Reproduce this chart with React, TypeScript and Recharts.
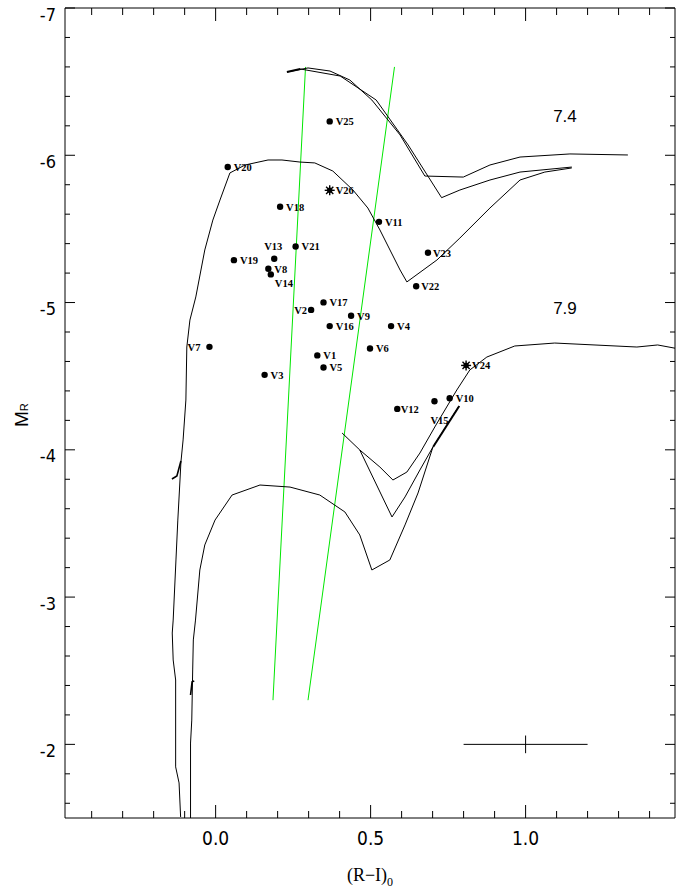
import React from 'react';
import { ScatterChart, Scatter, XAxis, YAxis, ReferenceArea, ErrorBar } from 'recharts';

// variable stars: (R-I)0 colour and M_R
const VAR_NAMES = ['V1', 'V2', 'V3', 'V4', 'V5', 'V6', 'V7', 'V8', 'V9', 'V10', 'V11', 'V12', 'V13',
  'V14', 'V15', 'V16', 'V17', 'V18', 'V19', 'V20', 'V21', 'V22', 'V23', 'V24', 'V25', 'V26'];
const VAR_RI = [0.328, 0.308, 0.158, 0.566, 0.348, 0.498, -0.02, 0.17, 0.437, 0.755, 0.527, 0.586, 0.189,
  0.178, 0.706, 0.368, 0.348, 0.208, 0.059, 0.039, 0.258, 0.647, 0.685, 0.808, 0.368, 0.368];
const VAR_MR = [-4.641, -4.95, -4.509, -4.84, -4.559, -4.688, -4.699, -5.229, -4.91, -4.35, -5.548, -4.278, -5.297,
  -5.191, -4.33, -4.84, -5.001, -5.65, -5.288, -5.92, -5.381, -5.111, -5.338, -4.573, -6.23, -5.762];
const STAR_MARKED = ['V24', 'V26'];

// isochrones, log age 7.4
const ISO74_MAIN: [number, number][] = [
  [-0.113, -1.507], [-0.118, -1.738], [-0.129, -1.847], [-0.129, -2.437], [-0.137, -2.573], [-0.14, -2.756],
  [-0.137, -2.844], [-0.128, -3.252], [-0.122, -3.523], [-0.115, -3.795], [-0.112, -3.917], [-0.105, -4.067],
  [-0.096, -4.338], [-0.093, -4.698], [-0.083, -4.881], [-0.064, -5.038], [-0.035, -5.357], [-0.009, -5.56],
  [0.014, -5.696], [0.046, -5.88], [0.095, -5.934], [0.169, -5.968], [0.214, -5.968], [0.272, -5.954],
  [0.32, -5.948], [0.378, -5.893], [0.443, -5.764], [0.491, -5.642], [0.53, -5.493], [0.595, -5.221],
  [0.617, -5.14], [0.714, -5.289], [0.788, -5.438], [0.885, -5.642], [0.982, -5.832], [1.062, -5.886],
  [1.149, -5.914],
];
const ISO74_UP1: [number, number][] = [
  [0.23, -6.565], [0.298, -6.593], [0.369, -6.572], [0.433, -6.511], [0.504, -6.375], [0.595, -6.138],
  [0.675, -5.859], [0.799, -5.852], [0.885, -5.934], [0.982, -5.988], [1.143, -6.009], [1.33, -6.002],
];
const ISO74_UP2: [number, number][] = [
  [0.273, -6.586], [0.402, -6.538], [0.518, -6.375], [0.621, -6.07], [0.729, -5.712], [0.788, -5.764],
  [0.885, -5.832], [0.982, -5.886], [1.149, -5.92],
];
const ISO74_TIP: [number, number][] = [[0.23, -6.565], [0.273, -6.586]];
const ISO74_HOOK: [number, number][] = [[-0.141, -3.802], [-0.125, -3.822], [-0.112, -3.924]];

// isochrones, log age 7.9
const ISO79_MAIN: [number, number][] = [
  [-0.081, -1.5], [-0.081, -2.009], [-0.077, -2.165], [-0.074, -2.505], [-0.072, -2.709], [-0.065, -2.844],
  [-0.051, -3.184], [-0.035, -3.354], [-0.002, -3.523], [0.053, -3.693], [0.143, -3.761], [0.24, -3.747],
  [0.336, -3.693], [0.417, -3.578], [0.465, -3.422], [0.504, -3.184], [0.562, -3.252], [0.611, -3.49],
  [0.653, -3.707], [0.701, -4.019], [0.785, -4.297],
];
const ISO79_UP1: [number, number][] = [
  [0.408, -4.114], [0.465, -3.999], [0.53, -3.883], [0.572, -3.795], [0.617, -3.849], [0.659, -3.978],
  [0.707, -4.155], [0.778, -4.406], [0.82, -4.542], [0.875, -4.63], [0.965, -4.705], [1.094, -4.725],
  [1.359, -4.698], [1.426, -4.712], [1.482, -4.69],
];
const ISO79_UP2: [number, number][] = [
  [0.465, -3.999], [0.569, -3.544], [0.611, -3.68], [0.659, -3.863], [0.701, -4.019],
];
const ISO79_TIP: [number, number][] = [[0.702, -4.021], [0.786, -4.297]];
const ISO79_HOOK: [number, number][] = [[-0.081, -2.335], [-0.076, -2.425], [-0.069, -2.43]];

// instability strip edges
const STRIP_BLUE: [number, number][] = [[0.29, -6.6], [0.185, -2.3]];
const STRIP_RED: [number, number][] = [[0.577, -6.6], [0.298, -2.3]];

// typical error
const ERR_POINT = [{ x: 1.0, y: -2.0, ex: 0.2, ey: 0.06 }];

const AGE_TEXT = ['7.4', '7.9'];
const AGE_X = [1.127, 1.127];
const AGE_Y = [-6.266, -4.963];

const X_TICKS = [-0.4, -0.3, -0.2, -0.1, 0, 0.1, 0.2, 0.3, 0.4, 0.5, 0.6, 0.7, 0.8, 0.9, 1.0, 1.1, 1.2, 1.3, 1.4];
const X_LABEL_VALUES = [0, 0.5, 1.0];
const X_LABEL_TEXT = ['0.0', '0.5', '1.0'];
const Y_TICKS = [-7, -6.8, -6.6, -6.4, -6.2, -6, -5.8, -5.6, -5.4, -5.2, -5, -4.8, -4.6, -4.4, -4.2, -4,
  -3.8, -3.6, -3.4, -3.2, -3, -2.8, -2.6, -2.4, -2.2, -2, -1.8, -1.6];
const Y_LABEL_VALUES = [-7, -6, -5, -4, -3, -2];
const Y_LABEL_TEXT = ['-7', '-6', '-5', '-4', '-3', '-2'];

const PLOT = { left: 65, right: 675, top: 8, bottom: 818 };
const NARROW = "'Liberation Sans Narrow', 'Arial Narrow', 'DejaVu Sans Condensed', sans-serif";

// label placement for the star names (dx, dy, anchor)
const LABEL_POS: Record<string, [number, number, string]> = {
  V2: [-4, 4, 'end'],
  V7: [-9, 4, 'end'],
  V12: [3.5, 4, 'start'],
  V13: [-1, -8.5, 'middle'],
  V14: [4, 12.5, 'start'],
  V15: [5, 22.5, 'middle'],
  V22: [5, 4, 'start'],
  V23: [5, 4, 'start'],
};

const toPts = (arr: [number, number][]) => arr.map(([x, y]) => ({ x, y }));
const varData = VAR_NAMES.map((name, i) => ({ x: VAR_RI[i], y: VAR_MR[i], name }));
const ageData = AGE_TEXT.map((t, i) => ({ x: AGE_X[i], y: AGE_Y[i], t }));

const Empty = () => <g />;

const VarShape = (props: any) => {
  const { cx, cy, payload } = props;
  const [dx, dy, anchor] = LABEL_POS[payload.name] || [6, 4, 'start'];
  const star = STAR_MARKED.includes(payload.name);
  return (
    <g>
      {star ? (
        <g stroke="#000" strokeWidth={1.4}>
          <line x1={cx - 5} x2={cx + 5} y1={cy} y2={cy} />
          <line x1={cx} x2={cx} y1={cy - 5} y2={cy + 5} />
          <line x1={cx - 3.6} x2={cx + 3.6} y1={cy - 3.6} y2={cy + 3.6} />
          <line x1={cx - 3.6} x2={cx + 3.6} y1={cy + 3.6} y2={cy - 3.6} />
          <circle cx={cx} cy={cy} r={2} fill="#000" />
        </g>
      ) : (
        <circle cx={cx} cy={cy} r={3.2} fill="#000" />
      )}
      <text x={cx + dx} y={cy + dy} textAnchor={anchor as any} fontFamily="'Liberation Serif', serif"
        fontWeight="bold" fontSize={10.5} fill="#000">
        {payload.name}
      </text>
    </g>
  );
};

const AgeShape = (props: any) => {
  const { cx, cy, payload } = props;
  return (
    <text x={cx} y={cy + 6} textAnchor="middle" fontFamily="'Liberation Sans', Arial, sans-serif"
      fontSize={17} fill="#000">
      {payload.t}
    </text>
  );
};

const XTick = (props: any) => {
  const { x, payload } = props;
  const idx = X_LABEL_VALUES.findIndex((v) => Math.abs(v - payload.value) < 1e-6);
  const len = idx >= 0 ? 13 : 7;
  return (
    <g>
      <line x1={x} x2={x} y1={PLOT.bottom} y2={PLOT.bottom - len} stroke="#000" />
      <line x1={x} x2={x} y1={PLOT.top} y2={PLOT.top + len} stroke="#000" />
      {idx >= 0 && (
        <text x={x} y={845} textAnchor="middle" fontFamily={NARROW} fontSize={19} fill="#000">
          {X_LABEL_TEXT[idx]}
        </text>
      )}
    </g>
  );
};

const YTick = (props: any) => {
  const { y, payload } = props;
  const idx = Y_LABEL_VALUES.findIndex((v) => Math.abs(v - payload.value) < 1e-6);
  const len = idx >= 0 ? 10 : 5;
  return (
    <g>
      <line x1={PLOT.left} x2={PLOT.left + len} y1={y} y2={y} stroke="#000" />
      <line x1={PLOT.right} x2={PLOT.right - len} y1={y} y2={y} stroke="#000" />
      {idx >= 0 && (
        <text x={56} y={y + 12.5} textAnchor="end" fontFamily={NARROW} fontSize={18} fill="#000">
          {Y_LABEL_TEXT[idx]}
        </text>
      )}
    </g>
  );
};

const XTitle = () => (
  <text x={(PLOT.left + PLOT.right) / 2} y={881} textAnchor="middle" fontFamily="'Liberation Serif', serif"
    fontSize={18} fill="#000">
    (R−I)<tspan fontSize={12} dy={5}>0</tspan>
  </text>
);

const YTitle = () => (
  <text x={28} y={427} transform="rotate(-90 28 427)" fontFamily="'Liberation Sans', Arial, sans-serif"
    fontSize={19} fill="#000">
    M<tspan fontSize={11}>R</tspan>
  </text>
);

const curve = (pts: [number, number][], key: string, stroke = '#000', width = 1) => (
  <Scatter key={key} data={toPts(pts)} line={{ stroke, strokeWidth: width }} lineJointType="linear"
    shape={<Empty />} isAnimationActive={false} />
);

export default function App() {
  return (
    <div style={{ position: 'absolute', left: 0, top: 0, background: '#fff' }}>
      <ScatterChart width={686} height={890} margin={{ top: 8, right: 11, bottom: 0, left: 0 }}>
        <XAxis type="number" dataKey="x" domain={[-0.486, 1.482]} allowDataOverflow ticks={X_TICKS}
          interval={0} tick={<XTick />} tickLine={false} axisLine={false} tickSize={0} tickMargin={0}
          height={72} label={<XTitle />} />
        <YAxis type="number" dataKey="y" domain={[-7, -1.5]} reversed allowDataOverflow ticks={Y_TICKS}
          interval={0} tick={<YTick />} tickLine={false} axisLine={false} tickSize={0} tickMargin={0}
          width={65} label={<YTitle />} />
        <ReferenceArea x1={-0.486} x2={1.482} y1={-7} y2={-1.5} fill="none" fillOpacity={0}
          stroke="#000" strokeWidth={1} />
        {curve(STRIP_BLUE, 'sb', '#00e600')}
        {curve(STRIP_RED, 'sr', '#00e600')}
        {curve(ISO74_MAIN, 'a1')}
        {curve(ISO74_UP1, 'a2')}
        {curve(ISO74_UP2, 'a3')}
        {curve(ISO74_TIP, 'a4', '#000', 2)}
        {curve(ISO74_HOOK, 'a5', '#000', 1.6)}
        {curve(ISO79_MAIN, 'b1')}
        {curve(ISO79_UP1, 'b2')}
        {curve(ISO79_UP2, 'b3')}
        {curve(ISO79_TIP, 'b4', '#000', 2)}
        {curve(ISO79_HOOK, 'b5', '#000', 1.6)}
        <Scatter data={ERR_POINT} shape={<Empty />} isAnimationActive={false}>
          <ErrorBar dataKey="ex" direction="x" width={0} stroke="#000" strokeWidth={1} />
          <ErrorBar dataKey="ey" direction="y" width={0} stroke="#000" strokeWidth={1} />
        </Scatter>
        <Scatter data={varData} shape={<VarShape />} isAnimationActive={false} />
        <Scatter data={ageData} shape={<AgeShape />} isAnimationActive={false} />
      </ScatterChart>
    </div>
  );
}
